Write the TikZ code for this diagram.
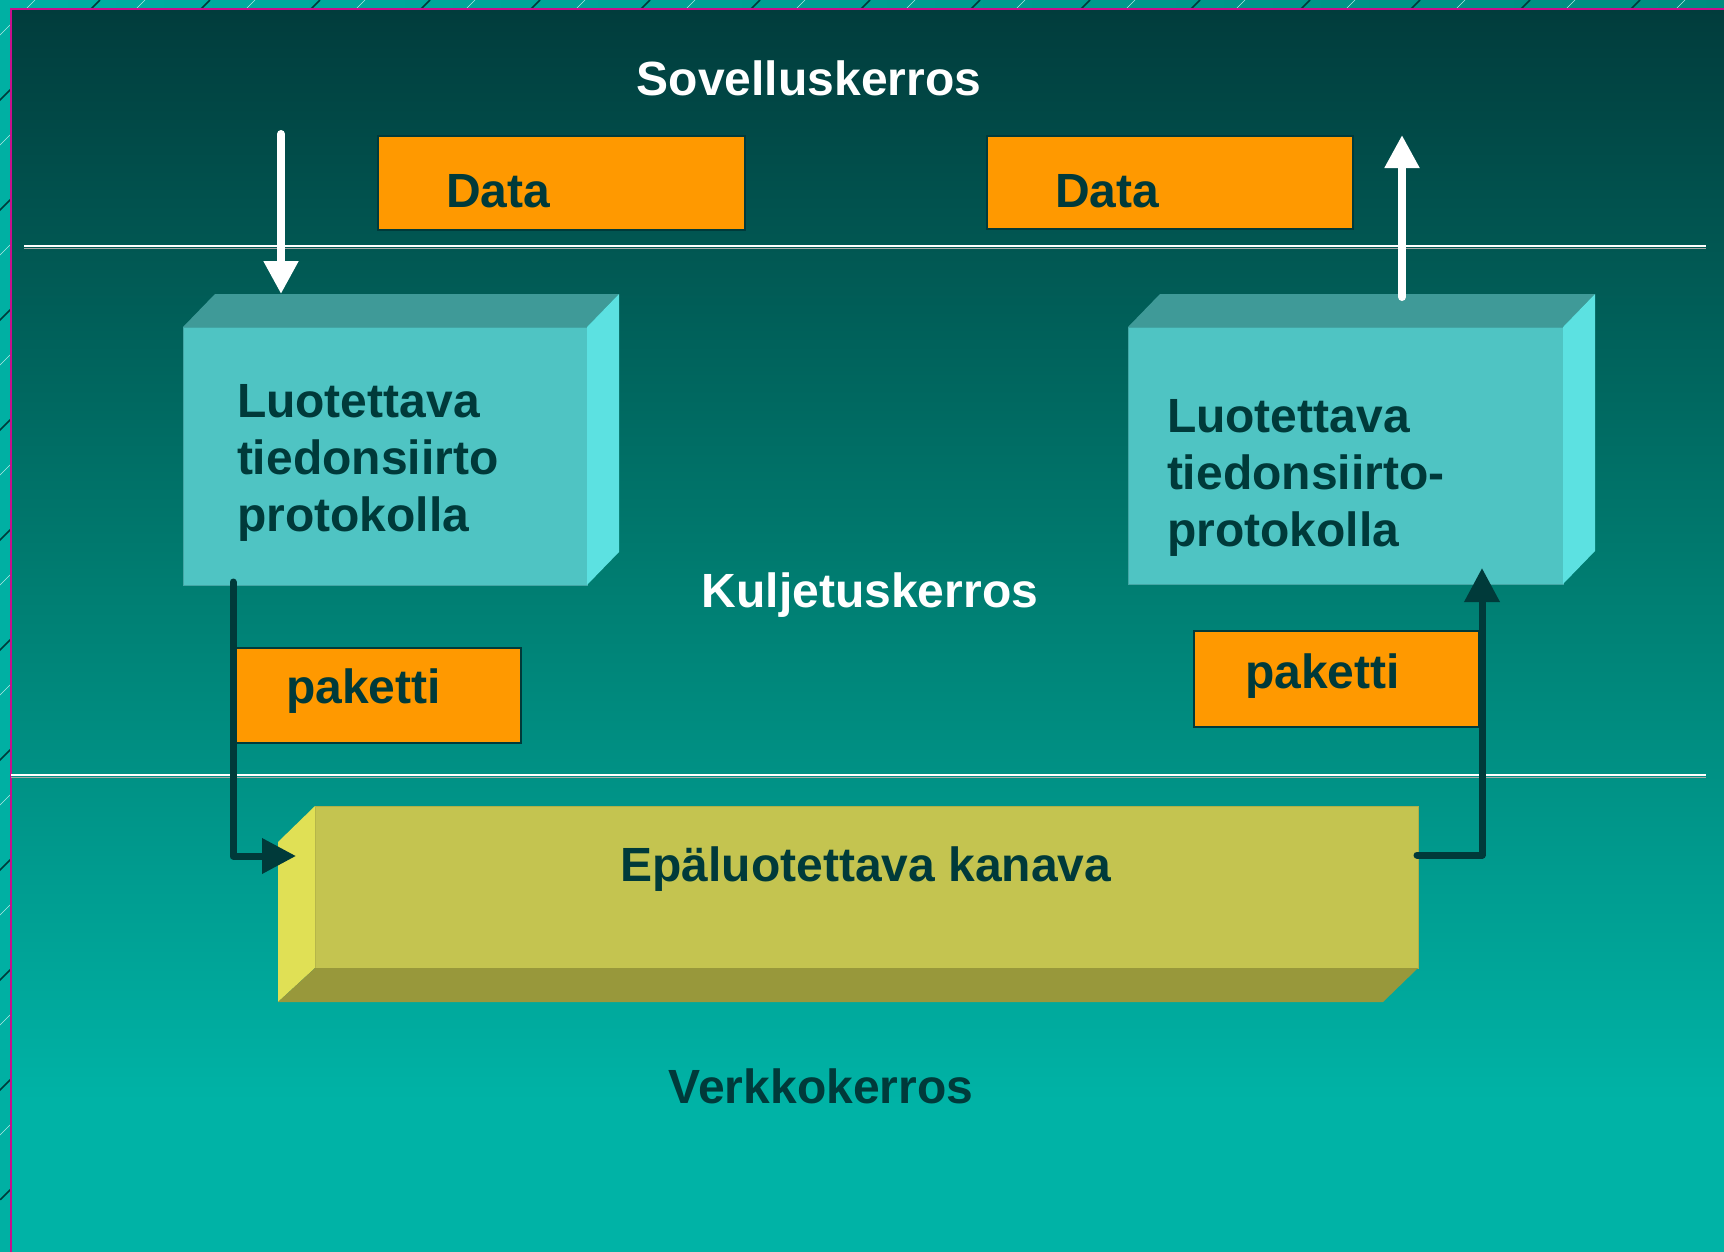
\documentclass[tikz,border=0pt]{standalone}
\usepackage{fontspec}
\setmainfont{Liberation Sans}
\usetikzlibrary{arrows.meta,calc}
\definecolor{darkteal}{HTML}{003A3A}
\definecolor{orangefill}{HTML}{FF9900}
\definecolor{cyanfront}{HTML}{4FC4C3}
\definecolor{cyantop}{HTML}{3F9A98}
\definecolor{cyanside}{HTML}{5CE1E1}
\definecolor{yelfront}{HTML}{C4C450}
\definecolor{yelside}{HTML}{E0E055}
\definecolor{yelbottom}{HTML}{98983B}
\definecolor{bgtop}{HTML}{013C3C}
\definecolor{bgmid}{HTML}{007E72}
\definecolor{bgbot}{HTML}{00B3A6}
\definecolor{stripl}{HTML}{00B0A3}
\definecolor{stripr}{HTML}{008C7F}
\definecolor{framemag}{HTML}{C8108C}
\begin{document}
\begin{tikzpicture}[x=1pt,y=-1pt,
  lbl/.style={font=\fontsize{48}{57}\selectfont\bfseries, inner sep=0pt, outer sep=0pt},
  boxbase/.style={inner sep=0pt, outer sep=0pt, rectangle},
  obox/.style={boxbase, draw=darkteal, line width=1.5pt, fill=orangefill},
  cfront/.style={boxbase, fill=cyanfront, draw=cyanfront!85!black, line width=1pt},
  yfront/.style={boxbase, fill=yelfront, draw=yelfront!90!black, line width=1pt},
  whitearrow/.style={draw=white, line width=8pt, line cap=round, -{Triangle[width=33pt,length=33pt]}},
  darkarrow/.style={draw=darkteal, line width=7pt, line cap=round, line join=round, -{Triangle[width=34pt,length=34pt]}},
  layerline/.style={draw=white, line width=2pt},
  stripedark/.style={draw=darkteal, line width=1.6pt},
  stripelight/.style={draw=white!70!stripl, line width=0.6pt}
]
\useasboundingbox (0,0) rectangle (1724,1251);
% outer strip
\shade[left color=stripl, right color=stripr] (-5,-5) rectangle (1730,1260);
\begin{scope}
  \clip (-5,-5) rectangle (1730,12) (-5,-5) rectangle (13,1200);
  \foreach \t in {-1330,-1220,...,1800} {
    \draw[stripedark] (\t,0) -- (\t-1300,1300);
    \draw[stripelight] (\t+45,0) -- (\t+45-1300,1300);
  }
\end{scope}
% main panel
\shade[top color=bgtop, bottom color=bgmid] (11,9) rectangle (1730,591);
\shade[top color=bgmid, bottom color=bgbot] (11,590) rectangle (1730,1101);
\fill[bgbot] (11,1100) rectangle (1730,1260);
\draw[framemag, line width=2.6pt] (11,1260) -- (11,9) -- (1730,9);

% layer separator lines
\coordinate (l1a) at (24,246);
\coordinate (l1b) at (1706,246);
\coordinate (l2a) at (11,775);
\coordinate (l2b) at (1706,775);
\draw[gray!70, line width=1pt] ($(l1a)+(0,2.5)$) -- ($(l1b)+(0,2.5)$);
\draw[layerline] (l1a) -- (l1b);
\draw[gray!70, line width=1pt] ($(l2a)+(0,2.5)$) -- ($(l2b)+(0,2.5)$);
\draw[layerline] (l2a) -- (l2b);

% layer titles
\node[lbl, text=white, anchor=base] (sov) at (809,95) {Sovelluskerros};
\node[lbl, text=white, anchor=base] (kul) at (870,607) {Kuljetuskerros};
\node[lbl, text=darkteal, anchor=base] (ver) at (821,1103) {Verkkokerros};

% Data boxes
\node[obox, minimum width=367pt, minimum height=94pt] (dataL) at (561.5,183) {};
\node[lbl, text=darkteal, anchor=base west] (dataLt) at (446,207) {Data};
\node[obox, minimum width=366pt, minimum height=93pt] (dataR) at (1170,182.5) {};
\node[lbl, text=darkteal, anchor=base west] (dataRt) at (1055,207) {Data};

% left protocol box
\node[cfront, minimum width=404pt, minimum height=258pt] (protL) at (385,456) {};
\fill[cyantop] (protL.north west) -- ++(32,-33) -- ($(protL.north east)+(32,-33)$) -- (protL.north east) -- cycle;
\fill[cyanside] (protL.north east) -- ++(32,-33) -- ($(protL.south east)+(32,-33)$) -- (protL.south east) -- cycle;
\node[lbl, text=darkteal, anchor=base west] (protLt) at (237,417)
  {\parbox[t]{330pt}{\raggedright Luotettava\\tiedonsiirto\\protokolla}};

% right protocol box
\node[cfront, minimum width=435pt, minimum height=257pt] (protR) at (1345.5,455.5) {};
\fill[cyantop] (protR.north west) -- ++(32,-33) -- ($(protR.north east)+(32,-33)$) -- (protR.north east) -- cycle;
\fill[cyanside] (protR.north east) -- ++(32,-33) -- ($(protR.south east)+(32,-33)$) -- (protR.south east) -- cycle;
\node[lbl, text=darkteal, anchor=base west] (protRt) at (1167,432)
  {\parbox[t]{380pt}{\raggedright Luotettava\\tiedonsiirto-\\protokolla}};

% channel box
\node[yfront, minimum width=1103pt, minimum height=162pt] (chan) at (866.5,887) {};
\fill[yelside] (chan.north west) -- ++(-37,36) -- ($(chan.south west)+(-37,34)$) -- (chan.south west) -- cycle;
\fill[yelbottom] (chan.south west) -- (chan.south east) -- ++(-35,34) -- ($(chan.south west)+(-37,34)$) -- cycle;
\node[lbl, text=darkteal, anchor=base] (chant) at (866,881) {Epäluotettava kanava};

% paketti boxes
\node[obox, minimum width=287pt, minimum height=95pt] (pakL) at (377.5,695.5) {};
\node[lbl, text=darkteal, anchor=base west] (pakLt) at (286,703) {paketti};
\node[obox, minimum width=285pt, minimum height=96pt] (pakR) at (1336.5,679) {};
\node[lbl, text=darkteal, anchor=base west] (pakRt) at (1245,688) {paketti};

% connectors
\coordinate (appIn) at (281,134);
\coordinate (protLin) at ($(protL.north west)+(98,-33)$);
\draw[whitearrow] (appIn) -- (protLin);
\coordinate (protRout) at ($(protR.north west)+(274,-30)$);
\coordinate (appOut) at (1402,135);
\draw[whitearrow] (protRout) -- (appOut);

\coordinate (protLout) at ($(protL.south west)+(50,-3)$);
\coordinate (chanIn) at (296,856);
\draw[darkarrow] (protLout) |- (chanIn);
\coordinate (chanOut) at (1417,855);
\coordinate (protRin) at (1482,568);
\draw[darkarrow] (chanOut) -| (protRin);
\end{tikzpicture}
\end{document}
